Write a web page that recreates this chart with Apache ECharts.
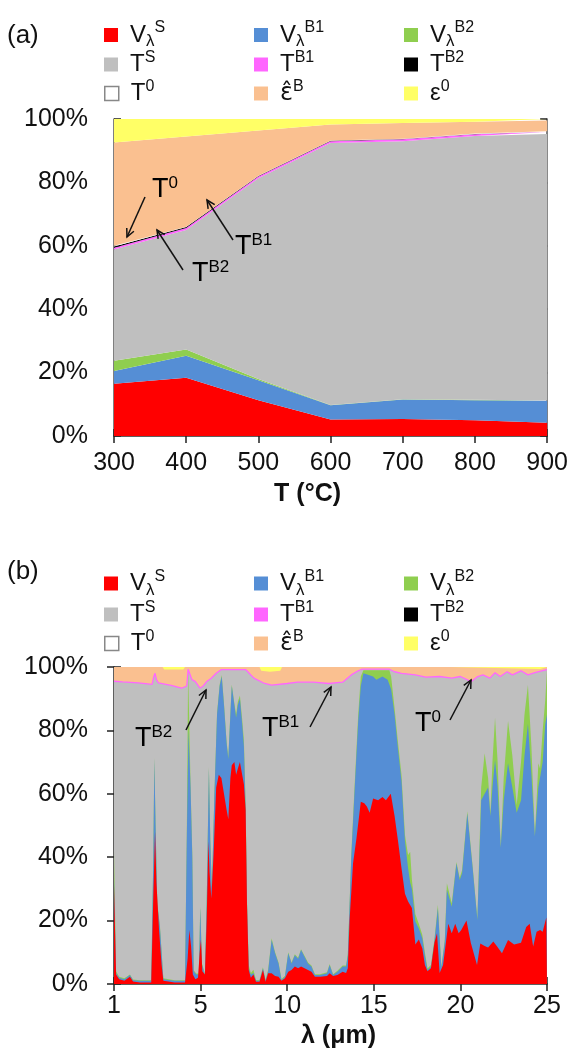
<!DOCTYPE html>
<html><head><meta charset="utf-8">
<script src="https://cdn.jsdelivr.net/npm/echarts@6/dist/echarts.min.js"></script>
<style>html,body{margin:0;padding:0;background:#fff}#c{width:571px;height:1058px}</style>
</head><body><div id="c"></div>
<script>
// ---------- Panel (a): shares (%) vs temperature ----------
const tempsA = [300, 400, 500, 600, 700, 800, 900];
const aVS  = [16.5, 18.4, 11.3, 5.2, 5.4, 5.0, 4.2];
const aVB1 = [4.0, 6.9, 6.3, 4.5, 6.1, 6.3, 6.9];
const aVB2 = [3.2, 2.0, 0.4, 0.1, 0.1, 0.1, 0.1];
const aTS  = [35.1, 37.7, 63.3, 82.6, 81.4, 83.2, 84.1];
const aTB1 = [0.6, 0.6, 0.6, 0.6, 0.6, 0.6, 0.6];
const aTB2 = [0.4, 0.3, 0.1, 0.1, 0.1, 0.1, 0.1];
const aT0  = [0.2, 0.1, 0.1, 0.1, 0.1, 0.1, 0.1];
const aEB  = [32.6, 28.5, 14.3, 5.1, 4.9, 3.7, 3.4];
const aE0  = [7.4, 5.5, 3.6, 1.7, 1.3, 0.9, 0.5];

// ---------- Panel (b): cumulative layer tops (%) vs lambda axis position ----------
// axis position 0 is labelled "1", then 5,10,15,20,25
const bTickLabels = {0: '1', 5: '5', 10: '10', 15: '15', 20: '20', 25: '25'};
const bRedTop = [[0,31],[0.12,3],[0.3,1.5],[0.6,1],[0.92,2.3],[1.1,0.8],[1.5,0.5],[2.15,0.5],[2.28,30],[2.37,48],[2.45,32],[2.6,17],[2.75,6],[2.85,1],[3.5,0.5],[4.1,0.5],[4.25,8],[4.35,17],[4.45,12],[4.55,3],[4.7,1.5],[4.85,2],[4.95,10],[5.02,14],[5.1,4],[5.25,3],[5.35,20],[5.45,45],[5.52,35],[5.62,27],[5.75,41],[5.9,62],[6.05,66],[6.2,65],[6.35,60],[6.5,55],[6.6,52],[6.72,65],[6.8,69],[6.95,70],[7.05,66],[7.15,68],[7.27,70],[7.4,66],[7.5,63],[7.6,55],[7.68,25],[7.78,4.4],[7.9,2],[8.05,3],[8.2,0.7],[8.4,0.7],[8.6,4.4],[8.75,0.7],[8.9,3.4],[9.1,3.4],[9.3,2.5],[9.5,2.3],[9.67,1],[9.87,1.8],[10.06,3.9],[10.25,4.4],[10.44,5.5],[10.63,5],[10.8,5.5],[11,5],[11.2,4.4],[11.4,3.9],[11.6,2.3],[11.9,2.3],[12.3,2.5],[12.45,3.4],[12.65,2.5],[12.9,2.8],[13.2,3.9],[13.4,3.5],[13.5,5],[13.6,20],[13.8,38],[14,46],[14.25,57.5],[14.45,57],[14.6,56],[14.76,54],[14.96,58.5],[15.25,58],[15.5,59],[15.7,58],[15.98,60],[16.2,53],[16.4,45],[16.6,36.5],[16.8,28.5],[16.98,26],[17.2,24],[17.4,12.5],[17.6,14],[17.8,11.3],[17.95,6],[18.1,4],[18.3,5],[18.5,13],[18.65,16],[18.8,3.5],[19,6],[19.3,19],[19.5,16],[19.7,19],[19.9,16],[20.05,17],[20.35,20],[20.6,13],[20.96,6],[21.15,12.8],[21.4,12],[21.6,11.5],[21.9,13.4],[22.1,12],[22.4,9.7],[22.75,13.9],[23.1,12.5],[23.5,13],[23.8,18],[24,19],[24.2,11.8],[24.4,16.5],[24.6,17],[24.75,16.5],[24.96,21],[25,21]];
const bBlueTop = [[0,33],[0.12,3.5],[0.3,2],[0.6,1.5],[0.92,2.8],[1.1,1.2],[1.5,1],[2.15,1],[2.27,40],[2.33,71],[2.4,50],[2.5,25],[2.65,18],[2.85,1.5],[3.5,1],[4.1,1],[4.2,45],[4.3,80],[4.42,62],[4.52,40],[4.6,4],[4.75,3],[4.9,3],[4.98,24],[5.08,6],[5.25,3],[5.35,25],[5.48,68],[5.56,45],[5.65,30],[5.8,60],[5.95,85],[6.1,94],[6.22,97],[6.35,88],[6.5,76],[6.6,71],[6.72,85],[6.8,94],[6.95,88],[7.05,84],[7.15,88],[7.27,90],[7.4,82],[7.5,75],[7.6,55],[7.68,25],[7.78,5],[7.9,3],[8.05,3.5],[8.2,1],[8.4,1],[8.6,5],[8.75,1],[8.9,4],[9.1,13.9],[9.3,9.7],[9.5,6.5],[9.67,1.3],[9.87,2.3],[10.06,9.7],[10.25,6.5],[10.44,9.1],[10.63,8],[10.8,10.7],[11,8.6],[11.2,6.5],[11.4,5.5],[11.6,2.8],[11.9,2.8],[12.3,3.4],[12.45,6],[12.65,2.8],[12.9,3.9],[13.2,5.5],[13.4,5.5],[13.5,9],[13.7,40],[13.9,62],[14.1,83],[14.25,94],[14.4,98],[14.7,97.5],[14.96,97],[15.15,96],[15.5,97],[15.8,96],[16,93],[16.2,85],[16.4,74],[16.6,64],[16.8,45],[16.98,36.5],[17.1,32],[17.2,30],[17.4,19.7],[17.6,17.5],[17.8,14.4],[17.95,9],[18.1,4.4],[18.3,5.5],[18.5,13.4],[18.7,23.9],[18.9,5],[19.1,13.4],[19.22,29.7],[19.5,24.4],[19.77,38],[19.96,32.8],[20.1,35],[20.4,53.8],[20.7,37],[20.98,20.2],[21.2,58],[21.4,60],[21.6,62],[21.73,53],[21.85,62],[22,70.7],[22.15,62],[22.33,43],[22.5,58],[22.75,69.6],[23,62],[23.25,54],[23.5,58],[23.7,72],[23.9,82],[24.1,66],[24.3,46.5],[24.5,62],[24.6,62],[24.75,70],[24.9,82],[25,85]];
const bGreenTop = [[0,42],[0.12,4],[0.3,2.3],[0.6,1.8],[0.92,3],[1.1,1.4],[1.5,1.2],[2.15,1.2],[2.27,40],[2.33,71.5],[2.4,50],[2.5,25.5],[2.65,18.5],[2.85,1.8],[3.5,1.2],[4.1,1.2],[4.2,46],[4.28,99],[4.36,99],[4.42,63],[4.52,41],[4.6,4.3],[4.75,3.3],[4.9,3.3],[4.98,24.5],[5.08,6.5],[5.25,3.3],[5.35,25.5],[5.48,68.5],[5.56,45.5],[5.65,30.5],[5.8,60.5],[5.95,85.5],[6.1,94.5],[6.22,97.5],[6.35,88.5],[6.5,76.5],[6.6,71.5],[6.72,85.5],[6.8,94.5],[6.95,88.5],[7.05,85],[7.15,89],[7.27,91],[7.4,83.5],[7.5,77],[7.6,57],[7.68,26],[7.78,6],[7.9,3.5],[8.05,4.5],[8.2,1.3],[8.4,1.3],[8.6,5.3],[8.75,1.3],[8.9,4.5],[9.1,14.4],[9.3,10],[9.5,6.8],[9.67,1.6],[9.87,2.6],[10.06,10],[10.25,6.8],[10.44,9.4],[10.63,8.3],[10.8,11],[11,8.9],[11.2,6.8],[11.4,5.8],[11.6,3.1],[11.9,3.1],[12.3,3.7],[12.45,6.3],[12.65,3.1],[12.9,4.2],[13.2,5.8],[13.4,5.8],[13.5,9.5],[13.7,41],[13.9,63.5],[14.1,85],[14.25,97],[14.4,99],[15.9,99],[16,97],[16.2,87],[16.4,76],[16.6,66],[16.8,47],[16.98,40.7],[17.1,41.7],[17.2,33],[17.4,22],[17.6,19],[17.8,15.5],[17.95,10],[18.1,5],[18.3,6],[18.5,14],[18.7,25],[18.9,5.5],[19.1,14],[19.22,31.8],[19.3,31.5],[19.5,25.5],[19.77,38.5],[19.96,33.5],[20.1,36],[20.4,54.5],[20.7,37.5],[20.98,20.5],[21.2,62],[21.4,72.8],[21.6,65],[21.73,53.8],[21.85,70],[22,84],[22.15,70],[22.33,43],[22.5,65],[22.75,83],[23,72],[23.25,56.5],[23.5,70],[23.7,85],[23.9,94.3],[24.1,75],[24.3,46.5],[24.5,69.6],[24.6,68],[24.75,80],[24.9,89.6],[25,99]];
const bGrayTop = [[0,95.5],[0.5,95.3],[1.4,95],[2.2,94.5],[2.3,97],[2.37,98],[2.45,96],[2.56,95],[3.3,94.2],[3.9,93.3],[4.2,94],[4.28,99.3],[4.36,99.3],[4.5,96],[4.7,95.4],[4.96,93.3],[5.15,94],[5.35,95.4],[5.6,96.4],[5.9,98],[6.2,99.2],[7.6,99.2],[7.9,97.5],[8.1,96.4],[8.7,94.8],[9.1,94.3],[10,94.8],[10.6,95.2],[11.5,95.2],[12.4,94.8],[13.2,95.2],[13.7,97.5],[14.1,98.8],[14.3,99.3],[15.9,99.3],[16.2,98.5],[16.6,98],[17.4,97.5],[18,96.8],[18.8,97],[19.5,96.5],[20,97],[20.63,95.4],[21,97],[21.3,97.5],[21.7,96.5],[22,98.2],[22.3,97],[22.7,98.5],[23,97.5],[23.5,98.8],[23.9,97.5],[24.3,98.2],[24.7,98.8],[25,99.2]];
const bOrangeTop = [[0,100],[2.8,100],[2.9,99.2],[4,99.2],[4.1,100],[8.4,100],[8.5,98.8],[9,98.5],[9.6,98.8],[9.7,100],[19.4,100],[19.5,99.4],[24.6,99.4],[24.7,100],[25,100]];
const bTopEdge = [[0,100],[25,100]];

// ---------- styling ----------
const FONT = "'Liberation Sans', Arial, sans-serif";
const COL = {VS:'#ff0000', VB1:'#558ed5', VB2:'#8fce4f', TS:'#bfbfbf', TB1:'#ff66ff', TB2:'#000000', T0:'#ffffff', EB:'#fac090', E0:'#ffff66'};
const LABELS = {
  VS:'{b|V}{sub|λ}{sup|S}', VB1:'{b|V}{sub|λ}{sup|B1}', VB2:'{b|V}{sub|λ}{sup|B2}',
  TS:'{b|T}{sup|S}', TB1:'{b|T}{sup|B1}', TB2:'{b|T}{sup|B2}',
  T0:'{b|T}{sup|0}', EB:'{e|ε̂}{sup|B}', E0:'{b|ε}{sup|0}'
};
const RICH = {
  b:{fontSize:24, fontFamily:FONT, color:'#111', lineHeight:30},
  e:{fontSize:24, fontFamily:"'DejaVu Sans', sans-serif", color:'#111', lineHeight:30},
  sub:{fontSize:17, fontFamily:FONT, color:'#111', verticalAlign:'bottom', lineHeight:17},
  sup:{fontSize:16, fontFamily:FONT, color:'#111', verticalAlign:'top', lineHeight:17}
};

const order = [['VS','VB1','VB2'],['TS','TB1','TB2'],['T0','EB','E0']];
const colX = [104, 254, 404];
function legendsFor(rowCenters) {
  const out = [];
  order.forEach((row, r) => row.forEach((name, c) => {
    const item = {name, icon:'rect'};
    if (name === 'T0') item.itemStyle = {color:'#ffffff', borderColor:'#888', borderWidth:1.5};
    else item.itemStyle = {color: COL[name]};
    out.push({
      data:[item], left: colX[c], top: rowCenters[r] - 7, padding:0,
      itemWidth:14, itemHeight:14, selectedMode:false,
      formatter: n => LABELS[n],
      textStyle:{fontFamily:FONT, fontSize:24, color:'#111', padding:[0,0,0,7], rich:RICH}
    });
  }));
  return out;
}

const axisLineStyle = {color:'#555', width:1.5};
const tickStyle = {color:'#222', width:1.5};
function yAx(grid, pos, showLabels, margin) {
  return {
    type:'value', gridIndex:grid, min:0, max:100, interval:20, position:pos,
    axisLine:{show:true, lineStyle:axisLineStyle},
    axisTick:{show:true, inside:true, length:7, lineStyle:tickStyle},
    splitLine:{show:false},
    axisLabel:{show:showLabels, fontFamily:FONT, fontSize:25, color:'#111', margin:margin, formatter:'{value}%'}
  };
}
function catAx(pos, showLabels, extra) {
  return Object.assign({
    type:'category', gridIndex:0, data:tempsA.map(String), boundaryGap:false, position:pos,
    axisLine:{show:true, lineStyle:axisLineStyle},
    axisTick:{show:true, inside:true, length:7, alignWithLabel:true, lineStyle:tickStyle},
    splitLine:{show:false},
    axisLabel:{show:showLabels, fontFamily:FONT, fontSize:25, color:'#111', margin:15}
  }, extra || {});
}
function valAxB(pos, showLabels, extra) {
  return Object.assign({
    type:'value', gridIndex:1, min:0, max:25, interval:5, position:pos,
    axisLine:{show:true, lineStyle:axisLineStyle},
    axisTick:{show:true, inside:true, length:7, lineStyle:tickStyle},
    splitLine:{show:false},
    axisLabel:{show:showLabels, fontFamily:FONT, fontSize:25, color:'#111', margin:10,
      formatter: v => bTickLabels[v] ?? String(v)}
  }, extra || {});
}

const aSeriesDefs = [['VS',aVS],['VB1',aVB1],['VB2',aVB2],['TS',aTS],['TB1',aTB1],['TB2',aTB2],['T0',aT0],['EB',aEB],['E0',aE0]];
const seriesA = aSeriesDefs.map(([name, vals]) => ({
  name, type:'line', xAxisIndex:0, yAxisIndex:0, stack:'a', symbol:'none', silent:true,
  lineStyle:{width:0}, areaStyle:{color:COL[name], opacity:1}, itemStyle:{color:COL[name]},
  data: vals
}));
function bArea(name, data) {
  return {name, type:'line', xAxisIndex:2, yAxisIndex:2, symbol:'none', silent:true,
    lineStyle:{width:0}, areaStyle:{color:COL[name], opacity:1}, itemStyle:{color:COL[name]}, data};
}
const seriesB = [
  bArea('E0', bTopEdge),
  bArea('EB', bOrangeTop),
  bArea('TS', bGrayTop),
  {name:'TB1', type:'line', xAxisIndex:2, yAxisIndex:2, symbol:'none', silent:true,
   lineStyle:{width:1.3, color:COL.TB1}, itemStyle:{color:COL.TB1}, data:bGrayTop},
  bArea('VB2', bGreenTop),
  bArea('VB1', bBlueTop),
  bArea('VS', bRedTop)
];

// annotation helpers (open arrow heads)
function arrow(x1, y1, x2, y2) {
  const a = Math.atan2(y2 - y1, x2 - x1), L = 9, s = 0.45;
  const p1 = [x2 - L * Math.cos(a - s), y2 - L * Math.sin(a - s)];
  const p2 = [x2 - L * Math.cos(a + s), y2 - L * Math.sin(a + s)];
  return [
    {type:'line', shape:{x1, y1, x2, y2}, style:{stroke:'#111', lineWidth:1.5}, z:100},
    {type:'polyline', shape:{points:[p1, [x2, y2], p2]}, style:{stroke:'#111', lineWidth:1.5, fill:null}, z:100}
  ];
}
const ANN_RICH = {
  t:{fontSize:27, fontFamily:FONT, color:'#111', lineHeight:30},
  s:{fontSize:17, fontFamily:FONT, color:'#111', verticalAlign:'top', lineHeight:17}
};
function ann(x, y, sup) {
  return {type:'text', x, y, z:100, style:{text:'{t|T}{s|' + sup + '}', rich:ANN_RICH, verticalAlign:'middle', align:'left'}};
}
function panelTag(x, y, t) {
  return {type:'text', x, y, z:100, style:{text:t, font:'26px ' + FONT, fill:'#111', verticalAlign:'middle'}};
}

const graphics = [
  panelTag(7, 36, '(a)'), panelTag(7, 572, '(b)'),
  ann(152, 190, '0'), ann(192, 274, 'B2'), ann(235, 247, 'B1'),
  ...arrow(145, 197, 127, 237), ...arrow(183, 270, 157, 230), ...arrow(233, 240, 207, 200),
  ann(135, 739, 'B2'), ann(262, 729, 'B1'), ann(415, 724, '0'),
  ...arrow(186, 730, 206, 690), ...arrow(310, 727, 331, 687), ...arrow(450, 720, 471, 680)
];

const chart = echarts.init(document.getElementById('c'), null, {renderer:'canvas'});
chart.setOption({
  animation:false,
  backgroundColor:'#ffffff',
  textStyle:{fontFamily:FONT},
  grid:[
    {left:114, top:119, width:434, height:317},
    {left:114, top:667, width:433, height:317}
  ],
  xAxis:[
    catAx('bottom', true, {
      name:'T (°C)', nameLocation:'middle', nameGap:46,
      nameTextStyle:{fontFamily:FONT, fontSize:25, fontWeight:'bold', color:'#111', padding:[0,46,0,0]}
    }),
    catAx('top', false),
    valAxB('bottom', true, {
      name:'λ (μm)', nameLocation:'middle', nameGap:40,
      nameTextStyle:{fontFamily:FONT, fontSize:25, fontWeight:'bold', color:'#111', padding:[0,0,0,16]}
    }),
    valAxB('top', false)
  ],
  yAxis:[
    yAx(0, 'left', true, 26), yAx(0, 'right', false, 8),
    yAx(1, 'left', true, 26), yAx(1, 'right', false, 8)
  ],
  legend:[...legendsFor([27, 56.5, 85.5]), ...legendsFor([575.5, 606.5, 635.5])],
  series:[...seriesA, ...seriesB],
  graphic:graphics
});
</script>
</body></html>
